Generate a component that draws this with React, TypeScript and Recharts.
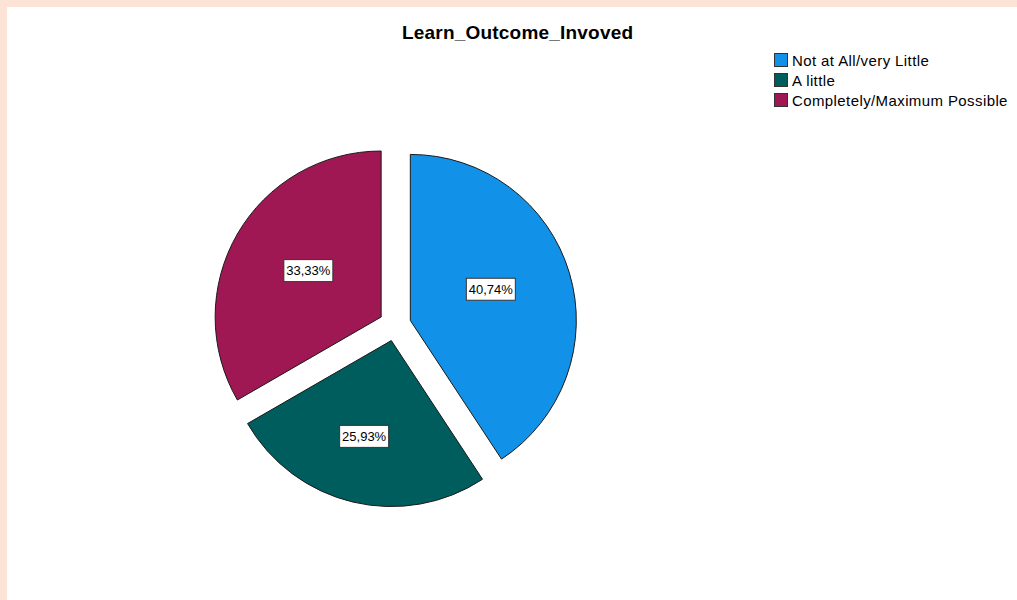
import React from 'react';
import { PieChart, Pie, Cell, Legend } from 'recharts';

const categories = ['Not at All/very Little', 'A little', 'Completely/Maximum Possible'];
const counts = [11, 7, 9];
const colors = ['#1192e8', '#005d5d', '#9f1853'];
const title = 'Learn_Outcome_Invoved';

const data = categories.map((name, i) => ({ name, value: counts[i] }));
const total = counts.reduce((a, b) => a + b, 0);

const W = 1010;
const H = 593;
const CX = 383;
const CY = 313;
const R = 166;
const EXPLODE = 16;
const LABEL_R = [0.52, 0.6, 0.52];
const LABEL_DA = [4.5, -2.5, -2.5];
const RAD = Math.PI / 180;

function midAngleOf(i: number) {
  let acc = 0;
  for (let k = 0; k < i; k++) acc += counts[k];
  const start = 90 - (acc / total) * 360;
  const end = 90 - ((acc + counts[i]) / total) * 360;
  return (start + end) / 2;
}

const fmt = (p: number) => (p * 100).toFixed(2).replace('.', ',') + '%';

function makeLabel(visible: number) {
  return (props: any) => {
    const { cx, cy, midAngle, outerRadius, index, percent } = props;
    if (index !== visible) return null;
    const rr = outerRadius * LABEL_R[index];
    const a = midAngle + LABEL_DA[index];
    const x = cx + rr * Math.cos(-a * RAD);
    const y = cy + rr * Math.sin(-a * RAD);
    const w = 49;
    const h = 22;
    return (
      <g>
        <rect x={x - w / 2} y={y - h / 2} width={w} height={h} fill="#ffffff" stroke="#333333" strokeWidth={1} />
        <text x={x} y={y + 4.5} textAnchor="middle" fontSize={13} fontFamily="'Liberation Sans', Arial, sans-serif" fill="#000">
          {fmt(percent)}
        </text>
      </g>
    );
  };
}

const LegendContent = () => (
  <div style={{ fontFamily: "'Liberation Sans', Arial, sans-serif", fontSize: 15, letterSpacing: 0.4, color: '#000' }}>
    {categories.map((c, i) => (
      <div key={c} style={{ display: 'flex', alignItems: 'center', height: 20 }}>
        <span
          style={{
            display: 'inline-block',
            width: 12,
            height: 12,
            background: colors[i],
            border: '1px solid #333',
            marginRight: 4,
            flexShrink: 0,
          }}
        />
        <span style={{ whiteSpace: 'nowrap' }}>{c}</span>
      </div>
    ))}
  </div>
);

export default function App() {
  return (
    <div style={{ position: 'absolute', left: 0, top: 0, width: 1017, height: 600, background: '#fde3d6' }}>
      <div style={{ position: 'absolute', left: 7, top: 7, width: W, height: H, background: '#ffffff' }}>
        <div
          style={{
            position: 'absolute',
            left: 395,
            top: 15,
            whiteSpace: 'nowrap',
            fontFamily: "'Liberation Sans', Arial, sans-serif",
            fontWeight: 'bold',
            fontSize: 19,
            letterSpacing: 0.2,
            color: '#000',
            zIndex: 2,
          }}
        >
          {title}
        </div>
        <PieChart width={W} height={H}>
          {categories.map((_, vi) => {
            const m = midAngleOf(vi);
            const cx = CX + EXPLODE * Math.cos(m * RAD);
            const cy = CY - EXPLODE * Math.sin(m * RAD);
            return (
              <Pie
                key={vi}
                data={data}
                dataKey="value"
                nameKey="name"
                cx={cx}
                cy={cy}
                outerRadius={R}
                startAngle={90}
                endAngle={-270}
                isAnimationActive={false}
                labelLine={false}
                label={makeLabel(vi)}
                legendType="none"
              >
                {data.map((d, i) => (
                  <Cell
                    key={d.name}
                    fill={i === vi ? colors[i] : 'none'}
                    stroke={i === vi ? '#1a1a1a' : 'none'}
                    strokeWidth={1}
                  />
                ))}
              </Pie>
            );
          })}
          <Legend
            layout="vertical"
            verticalAlign="top"
            align="right"
            content={() => <LegendContent />}
            wrapperStyle={{ position: 'absolute', left: 767, top: 43, width: 250 }}
          />
        </PieChart>
      </div>
    </div>
  );
}
